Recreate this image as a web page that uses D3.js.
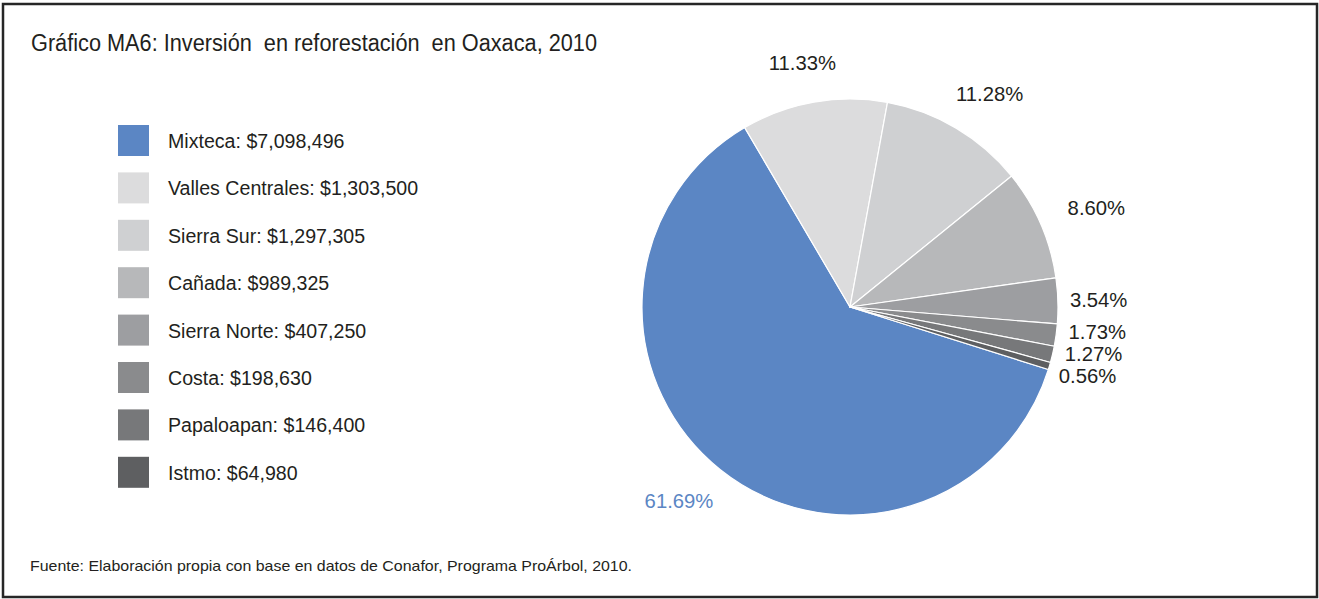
<!DOCTYPE html>
<html>
<head>
<meta charset="utf-8">
<script src="https://cdn.jsdelivr.net/npm/d3@7"></script>
<style>
  html, body { margin: 0; padding: 0; background: #ffffff; }
  svg { display: block; }
</style>
</head>
<body>
<svg id="chart" width="1319" height="599"></svg>
<script>
// ---- data ----
const categories = ["Mixteca", "Valles Centrales", "Sierra Sur", "Cañada", "Sierra Norte", "Costa", "Papaloapan", "Istmo"];
const amounts = [7098496, 1303500, 1297305, 989325, 407250, 198630, 146400, 64980];
const amountLabels = ["$7,098,496", "$1,303,500", "$1,297,305", "$989,325", "$407,250", "$198,630", "$146,400", "$64,980"];
const percentLabels = ["61.69%", "11.33%", "11.28%", "8.60%", "3.54%", "1.73%", "1.27%", "0.56%"];
const sliceColors = ["#5b86c4", "#dcdcdd", "#cfd0d2", "#b7b8ba", "#9d9ea1", "#8a8b8d", "#77787a", "#5e5f61"];
const titleText = "Gráfico MA6: Inversión  en reforestación  en Oaxaca, 2010";
const sourceText = "Fuente: Elaboración propia con base en datos de Conafor, Programa ProÁrbol, 2010.";

// ---- layout ----
const cx = 850, cy = 307, R = 208;
const startDeg = 107.5;
const svg = d3.select("#chart");
const deg = Math.PI / 180;

// frame
svg.append("rect")
  .attr("x", 3).attr("y", 4).attr("width", 1314).attr("height", 593)
  .attr("fill", "#ffffff").attr("stroke", "#262626").attr("stroke-width", 2.5);

// title
svg.append("text")
  .attr("x", 31).attr("y", 51)
  .attr("font-family", "'Liberation Sans Narrow', 'Arial Narrow', 'Liberation Sans', Arial, sans-serif")
  .attr("font-size", 23.5)
  .attr("fill", "#231f20")
  .attr("textLength", 566).attr("lengthAdjust", "spacingAndGlyphs")
  .style("white-space", "pre")
  .text(titleText);

// footer
svg.append("text")
  .attr("x", 30).attr("y", 571)
  .attr("font-family", "'Liberation Sans Narrow', 'Arial Narrow', 'Liberation Sans', Arial, sans-serif")
  .attr("font-size", 15)
  .attr("fill", "#231f20")
  .attr("textLength", 602).attr("lengthAdjust", "spacingAndGlyphs")
  .text(sourceText);

// legend
const legendY = d3.scaleBand().domain(categories).range([125, 125 + 47.4 * categories.length]);
const legend = svg.append("g");
categories.forEach((c, i) => {
  const y = legendY(c);
  legend.append("rect")
    .attr("x", 118).attr("y", y).attr("width", 31).attr("height", 31)
    .attr("fill", sliceColors[i]);
  legend.append("text")
    .attr("x", 168).attr("y", y + 16)
    .attr("dominant-baseline", "central")
    .attr("font-family", "'Liberation Sans', Arial, sans-serif")
    .attr("font-size", 19.6)
    .attr("fill", "#231f20")
    .style("white-space", "pre")
    .text(c + ": " + amountLabels[i]);
});

// pie
const pie = d3.pie().sort(null).value(d => d)
  .startAngle(startDeg * deg).endAngle(startDeg * deg + 2 * Math.PI);
const arcs = pie(amounts);
const arc = d3.arc().innerRadius(0).outerRadius(R);

const g = svg.append("g").attr("transform", `translate(${cx},${cy})`);
g.selectAll("path.slice").data(arcs).enter().append("path")
  .attr("class", "slice")
  .attr("d", arc)
  .attr("fill", (d, i) => sliceColors[i])
  .attr("stroke", "#ffffff").attr("stroke-width", 1.2).attr("stroke-linejoin", "round");

// labels
const fontSize = 20.3;
const labels = g.selectAll("text.pct").data(arcs).enter().append("text")
  .attr("class", "pct")
  .attr("dominant-baseline", "central")
  .attr("font-family", "'Liberation Sans', Arial, sans-serif")
  .attr("font-size", fontSize)
  .attr("fill", (d, i) => i === 0 ? sliceColors[0] : "#231f20")
  .text((d, i) => percentLabels[i]);

const total = d3.sum(amounts);
const gap = 32, sideR = 220, minGap = 22;
const info = arcs.map((d, i) => {
  const a = (d.startAngle + d.endAngle) / 2;
  const small = d.value / total < 0.05;
  return { i, a, small, x: 0, y: 0 };
});
// big labels: anchor at R+gap, box pushed outward
labels.each(function (d, i) {
  const o = info[i];
  if (o.small) return;
  const w = this.getComputedTextLength();
  const h = fontSize * 0.75;
  const s = Math.sin(o.a), c = -Math.cos(o.a);
  o.x = (R + gap) * s + s * w / 2;
  o.y = (R + gap) * c + c * h / 2;
});
// small labels: stacked at the side, relaxed vertically
const smalls = info.filter(o => o.small);
smalls.forEach(o => { o.y = -sideR * Math.cos(o.a); });
for (let iter = 0; iter < 200; iter++) {
  for (let k = 1; k < smalls.length; k++) {
    const up = smalls[k - 1], lo = smalls[k];
    const diff = lo.y - up.y;
    if (diff < minGap) {
      const push = (minGap - diff) / 2;
      up.y -= push; lo.y += push;
    }
  }
}
smalls.forEach(o => {
  o.x = Math.sqrt(Math.max(0, sideR * sideR - o.y * o.y));
});

labels
  .attr("text-anchor", (d, i) => info[i].small ? "start" : "middle")
  .attr("x", (d, i) => info[i].x)
  .attr("y", (d, i) => info[i].y);
</script>
</body>
</html>
